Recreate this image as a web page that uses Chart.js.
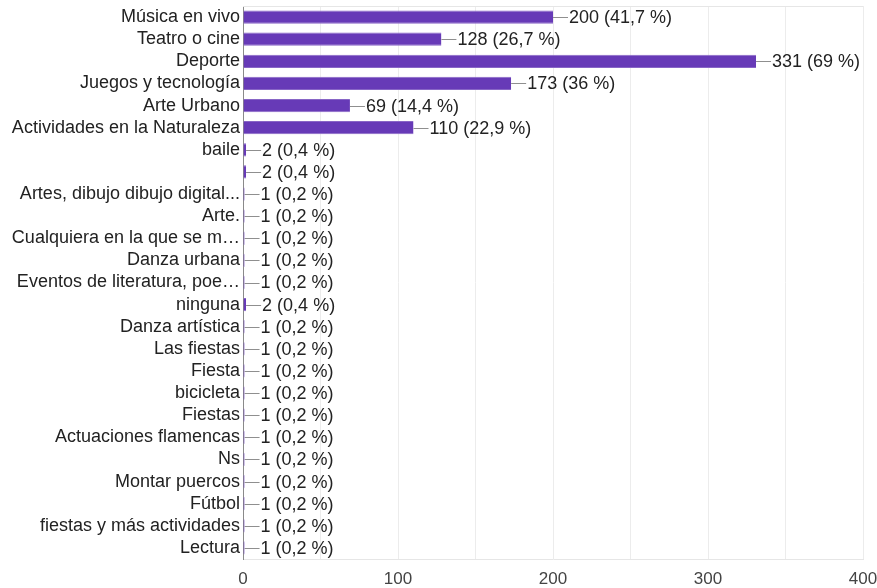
<!DOCTYPE html>
<html>
<head>
<meta charset="utf-8">
<script src="https://cdn.jsdelivr.net/npm/chart.js@4/dist/chart.umd.min.js"></script>
<style>
  html, body { margin: 0; padding: 0; background: #fff; }
  #wrap { width: 877px; height: 588px; position: relative; }
</style>
</head>
<body>
<div id="wrap"><canvas id="c"></canvas></div>
<script>
// Respuestas: actividades preferidas
const categories = [
  'Música en vivo', 'Teatro o cine', 'Deporte', 'Juegos y tecnología', 'Arte Urbano',
  'Actividades en la Naturaleza', 'baile', '', 'Artes, dibujo dibujo digital...', 'Arte.',
  'Cualquiera en la que se m…', 'Danza urbana', 'Eventos de literatura, poe…', 'ninguna',
  'Danza artística', 'Las fiestas', 'Fiesta', 'bicicleta', 'Fiestas', 'Actuaciones flamencas',
  'Ns', 'Montar puercos', 'Fútbol', 'fiestas y más actividades', 'Lectura'
];
const counts = [200, 128, 331, 173, 69, 110, 2, 2, 1, 1, 1, 1, 1, 2, 1, 1, 1, 1, 1, 1, 1, 1, 1, 1, 1];
const percents = [41.7, 26.7, 69, 36, 14.4, 22.9, 0.4, 0.4, 0.2, 0.2, 0.2, 0.2, 0.2, 0.4, 0.2, 0.2, 0.2, 0.2, 0.2, 0.2, 0.2, 0.2, 0.2, 0.2, 0.2];
const xTicks = [0, 100, 200, 300, 400];

const FONT = '"Liberation Sans", Arial, sans-serif';

// Leader line + "n (p %)" label at the end of each bar
const valueLabels = {
  id: 'valueLabels',
  afterDatasetsDraw(chart) {
    const ctx = chart.ctx;
    const meta = chart.getDatasetMeta(0);
    ctx.save();
    ctx.font = '18px ' + FONT;
    ctx.textBaseline = 'middle';
    ctx.textAlign = 'left';
    meta.data.forEach((bar, i) => {
      const x = bar.x, y = bar.y;
      ctx.strokeStyle = '#8f8f8f';
      ctx.lineWidth = 1;
      ctx.beginPath();
      ctx.moveTo(x, Math.round(y) + 0.5);
      ctx.lineTo(x + 15, Math.round(y) + 0.5);
      ctx.stroke();
      ctx.fillStyle = '#222';
      const p = String(percents[i]).replace('.', ',');
      ctx.fillText(counts[i] + ' (' + p + ' %)', x + 16, y + 1);
    });
    ctx.restore();
  }
};

// Light frame along the top of the plot area
const topFrame = {
  id: 'topFrame',
  beforeDatasetsDraw(chart) {
    const a = chart.chartArea, ctx = chart.ctx;
    ctx.save();
    ctx.strokeStyle = '#e6e6e6';
    ctx.lineWidth = 1;
    ctx.beginPath();
    ctx.moveTo(a.left, a.top + 0.5);
    ctx.lineTo(a.right, a.top + 0.5);
    ctx.stroke();
    ctx.restore();
  }
};

new Chart(document.getElementById('c'), {
  type: 'bar',
  data: {
    labels: categories,
    datasets: [{
      data: counts,
      backgroundColor: '#673ab7',
      borderColor: '#8866c6',
      borderWidth: { top: 1, bottom: 1, left: 0, right: 0 },
      borderSkipped: false,
      barPercentage: 0.6,
      categoryPercentage: 1.0
    }]
  },
  options: {
    indexAxis: 'y',
    responsive: true,
    maintainAspectRatio: false,
    animation: false,
    layout: { padding: { top: 6, right: 0, left: 0, bottom: 0 } },
    plugins: { legend: { display: false }, tooltip: { enabled: false } },
    scales: {
      x: {
        min: 0, max: 400,
        afterBuildTicks(scale) {
          const t = [];
          for (let v = 0; v <= 400; v += 50) t.push({ value: v });
          scale.ticks = t;
        },
        afterFit(scale) {
          scale.height = 29;
          scale.paddingLeft = 0;
          scale.paddingRight = 14;
        },
        grid: { color: '#ececec', drawTicks: false, lineWidth: 1 },
        border: { display: true, color: '#e6e6e6' },
        ticks: {
          padding: 10,
          color: '#444',
          font: { size: 17, family: FONT },
          maxRotation: 0,
          autoSkip: false,
          callback(v) { return xTicks.includes(v) ? String(v) : ''; }
        }
      },
      y: {
        afterFit(scale) {
          scale.width = 243;
          scale.paddingTop = 0;
          scale.paddingBottom = 0;
        },
        grid: { display: false, drawTicks: false },
        border: { display: true, color: '#8a8a8a', width: 1 },
        ticks: {
          padding: 3,
          color: '#222',
          autoSkip: false,
          font: { size: 18, family: FONT }
        }
      }
    }
  },
  plugins: [topFrame, valueLabels]
});
</script>
</body>
</html>
